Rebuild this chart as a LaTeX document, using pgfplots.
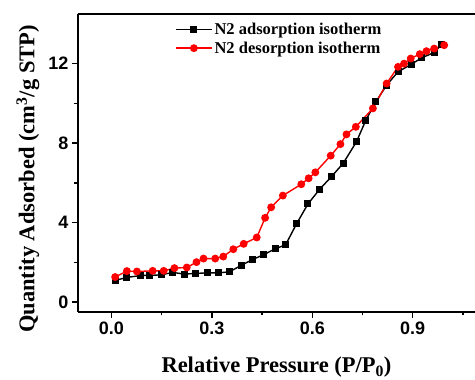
\documentclass[border=0pt]{standalone}
\usepackage{pgfplots}
\pgfplotsset{compat=1.18}
\usepackage{fontspec}
\setmainfont{Liberation Serif}
\newfontfamily\arialfont{Liberation Sans}
\begin{document}
\begin{tikzpicture}
\useasboundingbox (-78pt,-68pt) rectangle (397pt,312pt);
\begin{axis}[
  scale only axis, width=397pt, height=298pt,
  xmin=-0.1, xmax=1.086, ymin=-0.5, ymax=14.5,
  axis x line*=box, axis y line*=left,
  axis line style={line width=1.8pt},
  xtick pos=bottom, ytick pos=left,
  tick align=outside,
  major tick length=6pt, minor tick length=3.5pt,
  every tick/.style={black, line width=1.5pt},
  xtick={0,0.3,0.6,0.9}, minor xtick={0.15,0.45,0.75,1.05},
  ytick={0,4,8,12}, minor ytick={2,6,10},
  /pgf/number format/assume math mode=true,
  tick label style={font=\arialfont\bfseries\fontsize{18}{20}\selectfont},
  xticklabel style={/pgf/number format/.cd, fixed, fixed zerofill, precision=1},
  xlabel={Relative Pressure (P/P\textsubscript{0})},
  ylabel={Quantity Adsorbed (cm\textsuperscript{3}/g STP)},
  every axis x label/.style={at={(axis description cs:0.5,0)}, yshift=-61pt, anchor=base,
    font=\bfseries\fontsize{22.5}{26}\selectfont},
  every axis y label/.style={at={(axis description cs:0,0.446)}, xshift=-50pt, rotate=90, anchor=center,
    font=\bfseries\fontsize{22.5}{26}\selectfont},
  legend style={at={(axis description cs:0.2443,0.978)}, anchor=north west, draw=none, fill=none,
    font=\bfseries\fontsize{16.5}{20.5}\selectfont, inner xsep=0pt, inner ysep=0pt, row sep=2pt,
    nodes={inner sep=2pt}},
  legend cell align=left,
  legend image code/.code={\draw[mark repeat=2,mark phase=2] plot coordinates {(0pt,0pt)(18pt,0pt)(36pt,0pt)};},
]
\addplot[black, line width=1.4pt, mark=square*, mark size=2.8pt] coordinates {
(0.011,1.09) (0.046,1.24) (0.088,1.34) (0.115,1.34) (0.148,1.37) (0.183,1.49)
(0.218,1.41) (0.250,1.44) (0.286,1.47) (0.320,1.47) (0.352,1.52) (0.387,1.84)
(0.420,2.13) (0.454,2.38) (0.489,2.68) (0.520,2.88) (0.554,3.97) (0.587,4.94)
(0.622,5.68) (0.657,6.31) (0.692,6.98) (0.732,8.07) (0.760,9.16) (0.790,10.08)
(0.822,10.92) (0.856,11.59) (0.896,11.97) (0.926,12.29) (0.964,12.56) (0.986,12.96)
};
\addlegendentry{N2 adsorption isotherm}
\addplot[red, line width=1.4pt, mark=*, mark size=3.2pt] coordinates {
(0.011,1.26) (0.046,1.56) (0.076,1.54) (0.123,1.57) (0.156,1.57) (0.188,1.71)
(0.225,1.74) (0.254,2.01) (0.275,2.19) (0.310,2.19) (0.334,2.29) (0.364,2.66)
(0.395,2.93) (0.434,3.25) (0.459,4.24) (0.477,4.77) (0.512,5.36) (0.567,5.93)
(0.589,6.23) (0.609,6.53) (0.655,7.37) (0.684,7.95) (0.702,8.44) (0.730,8.82)
(0.781,9.75) (0.822,11.0) (0.856,11.84) (0.874,12.0) (0.894,12.26) (0.921,12.48)
(0.941,12.63) (0.964,12.76) (0.994,12.93)
};
\addlegendentry{N2 desorption isotherm}
\end{axis}
\end{tikzpicture}
\end{document}
